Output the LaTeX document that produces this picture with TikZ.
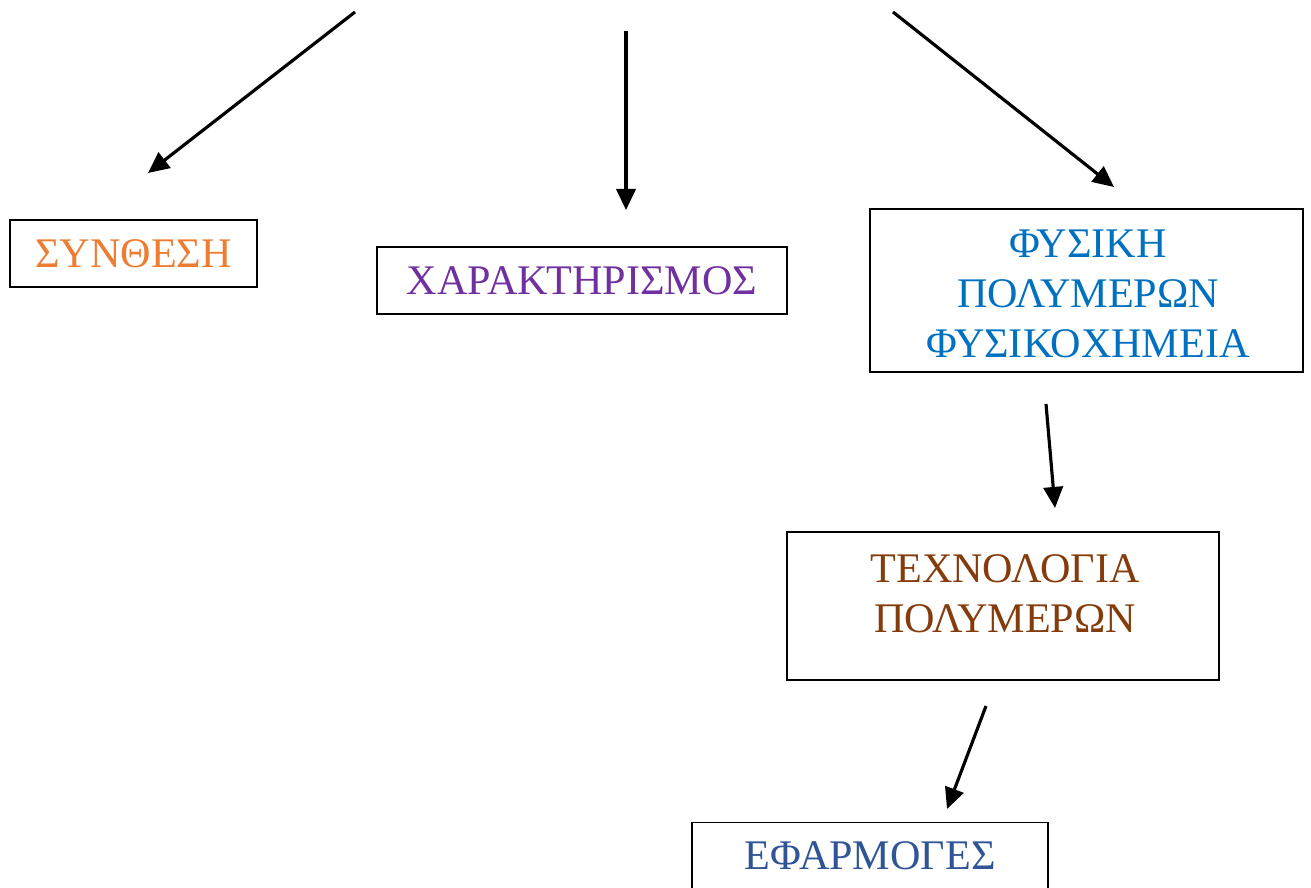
\documentclass[tikz,border=0pt]{standalone}
\usepackage{fontspec}
\setmainfont{Liberation Serif}
\usetikzlibrary{arrows.meta}
\definecolor{corange}{HTML}{ED7D31}
\definecolor{cpurple}{HTML}{7030A0}
\definecolor{cblue}{HTML}{0070C0}
\definecolor{cbrown}{HTML}{843C0C}
\definecolor{cdblue}{HTML}{2F5597}
\tikzset{
  box/.style={draw=black, line width=1.1pt, rectangle, inner sep=0pt, align=center,
    font=\fontsize{24}{28}\selectfont},
  txt/.style={inner sep=0pt, align=center, font=\fontsize{24}{28.5}\selectfont},
  arr/.style={line width=1.8pt, -{Triangle[length=12pt,width=11pt]}}
}
\begin{document}
\begin{tikzpicture}[x=0.02cm,y=-0.02cm]
\clip (0,0) rectangle (1311,887);
\fill[white] (0,0) rectangle (1311,887);
\node[box, text=corange, minimum width=4.94cm, minimum height=1.34cm] (syn) at (133.5,253.5) {ΣΥΝΘΕΣΗ};
\node[box, text=cpurple, minimum width=8.2cm, minimum height=1.34cm] (char) at (582,280.5) {ΧΑΡΑΚΤΗΡΙΣΜΟΣ};
\node[box, minimum width=8.66cm, minimum height=3.26cm] (phys) at (1086.5,290.5) {};
\node[txt, text=cblue] (phystxt) at (1088,294) {ΦΥΣΙΚΗ\\ΠΟΛΥΜΕΡΩΝ\\ΦΥΣΙΚΟΧΗΜΕΙΑ};
\node[box, minimum width=8.64cm, minimum height=2.96cm] (tech) at (1003,606) {};
\node[txt, text=cbrown] (techtxt) at (1005,594) {ΤΕΧΝΟΛΟΓΙΑ\\ΠΟΛΥΜΕΡΩΝ};
\node[box, text=cdblue, minimum width=7.12cm, minimum height=1.34cm] (app) at (870,856) {ΕΦΑΡΜΟΓΕΣ};
\coordinate (a1s) at (355,12);   \coordinate (a1e) at (148,173);
\coordinate (a2s) at (626,31);   \coordinate (a2e) at (626,210);
\coordinate (a3s) at (893,12);   \coordinate (a3e) at (1114,187);
\coordinate (a4s) at (1046,404); \coordinate (a4e) at (1055,508);
\coordinate (a5s) at (986,706);  \coordinate (a5e) at (947,809);
\draw[arr] (a1s) -- (a1e);
\draw[arr] (a2s) -- (a2e);
\draw[arr] (a3s) -- (a3e);
\draw[arr] (a4s) -- (a4e);
\draw[arr] (a5s) -- (a5e);
\end{tikzpicture}
\end{document}
